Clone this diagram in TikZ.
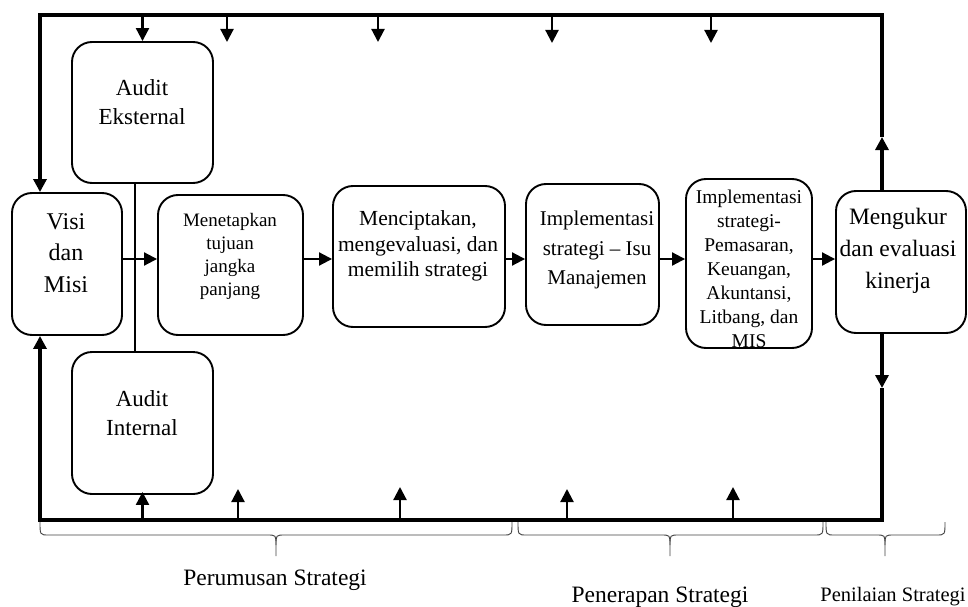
\documentclass[tikz,border=0pt]{standalone}
\usepackage{fontspec}
\setmainfont{Liberation Serif}
\usetikzlibrary{arrows.meta,calc}

\begin{document}
\begin{tikzpicture}[x=1pt, y=-1pt, >={Triangle[length=13pt,width=13pt]},
	box/.style={draw, line width=1.9pt, rounded corners=20pt},
	loopline/.style={line width=3.2pt},
	feed/.style={line width=2.2pt, ->},
	flowarrow/.style={line width=2pt, ->},
	phase/.style={draw=black!75, line width=0.9pt}]
			\newcommand{\PhaseBrace}[3]{
				\draw [phase] (#1,522) .. controls (#1,535) .. ([xshift=9pt]#1,535) -- ([xshift=-9pt]#2,535) .. controls (#2,535) .. (#2,545) -- (#2,556);
				\draw [phase] (#3,522) .. controls (#3,535) .. ([xshift=-9pt]#3,535) -- ([xshift=9pt]#2,535) .. controls (#2,535) .. (#2,545);
			}

			\useasboundingbox (0,0) rectangle (968,607);

			\node (ae) [box, minimum width=141, minimum height=141] at (142.5,112.5) {};
			\node (aet) [font=\fontsize{23}{29}\selectfont, align=center] at (142,102) {Audit\\Eksternal};

			\node (ai) [box, minimum width=141, minimum height=142] at (142.5,423) {};
			\node (ait) [font=\fontsize{23}{29}\selectfont, align=center] at (142,413) {Audit\\Internal};

			\node (vm) [box, minimum width=110, minimum height=142] at (67,264) {};
			\node (vmt) [font=\fontsize{24}{31.5}\selectfont, align=center] at (66,253) {Visi\\dan\\Misi};

			\node (tj) [box, minimum width=145, minimum height=140] at (230.5,265) {};
			\node (tjt) [font=\fontsize{19}{23}\selectfont, align=center] at (230,256) {Menetapkan\\tujuan\\jangka\\panjang};

			\node (ms) [box, minimum width=172, minimum height=141] at (419,256.5) {};
			\node (mst) [font=\fontsize{21.5}{25.5}\selectfont, align=center] at (418,246) {Menciptakan,\\mengevaluasi, dan\\memilih strategi};

			\node (im) [box, minimum width=133, minimum height=141] at (592.5,254.5) {};
			\node (imt) [font=\fontsize{21}{29.5}\selectfont, align=center] at (597,250) {Implementasi\\strategi -- Isu\\Manajemen};

			\node (ip) [box, minimum width=126, minimum height=169] at (749,263.5) {};
			\node (ipt) [font=\fontsize{19.5}{24}\selectfont, align=center] at (749,269) {Implementasi\\strategi-\\Pemasaran,\\Keuangan,\\Akuntansi,\\Litbang, dan\\MIS};

			\node (ek) [box, minimum width=130, minimum height=142] at (901,262) {};
			\node (ekt) [font=\fontsize{23.5}{32}\selectfont, align=center] at (898,251) {Mengukur\\dan evaluasi\\kinerja};

			\coordinate (lt) at (40,15);
			\coordinate (rt) at (882,15);
			\coordinate (lb) at (40,520);
			\coordinate (rb) at (882,520);
			\coordinate (up) at (882,137);
			\coordinate (dn) at (882,388);
			\coordinate (spine) at (135,0);
			\coordinate (flow) at (0,259);

			\draw [loopline, ->] (up) -- (rt) -- (lt) -- (vm.north -| lt);
			\draw [loopline, ->] (ek.north -| rt) -- (up);
			\draw [loopline, ->] (dn) -- (rb) -- (lb) -- (vm.south -| lb);
			\draw [loopline, ->] (ek.south -| rb) -- (dn);

			\draw [line width=1.6pt] (ae.south -| spine) -- (ai.north -| spine);

			\foreach \a/\b in {vm/tj, tj/ms, ms/im, im/ip, ip/ek}
				\draw [flowarrow] (\a.east |- flow) -- (\b.west |- flow);

			\draw [feed] (ae.north |- lt) -- (ae.north);
			\foreach \x/\y in {227/42, 378/42, 552/43, 711/43} {
				\coordinate (in\x) at (\x,\y);
				\draw [feed] (in\x |- lt) -- (in\x);
			}

			\draw [feed] (ai.south |- lb) -- ([yshift=3pt]ai.south);
			\foreach \x/\y in {238/489, 400/487, 567/489, 733/487} {
				\coordinate (out\x) at (\x,\y);
				\draw [feed] (out\x |- lb) -- (out\x);
			}

			\PhaseBrace{40}{276}{512}
			\PhaseBrace{518}{670}{823}
			\PhaseBrace{826}{885}{945}

			\node (pr) [font=\fontsize{23.5}{28}\selectfont] at (275,580) {Perumusan Strategi};
			\node (pn) [font=\fontsize{23.5}{28}\selectfont] at (660,597) {Penerapan Strategi};
			\node (pl) [font=\fontsize{20.5}{26}\selectfont] at (893,597) {Penilaian Strategi};
		\end{tikzpicture}
\end{document}
